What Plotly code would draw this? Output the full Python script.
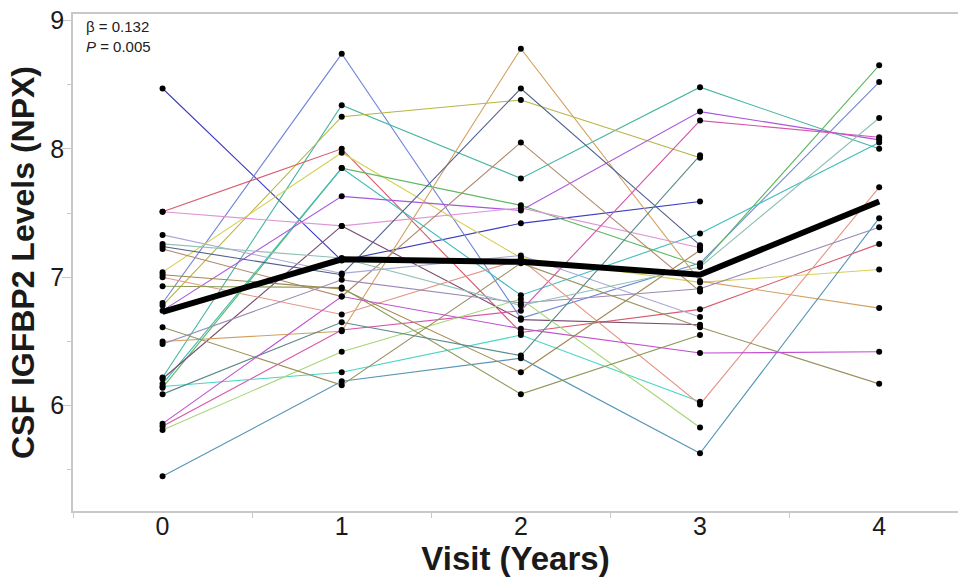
import plotly.graph_objects as go

visits = [0, 1, 2, 3, 4]
x_tick_labels = ["0", "1", "2", "3", "4"]
y_tick_values = [6, 7, 8, 9]

# Individual subject trajectories (None = missing visit)
s01 = [8.47, 7.13, 7.42, 7.59, None]
s02 = [6.80, 8.74, 6.68, 7.11, 8.52]
s03 = [6.22, 8.34, 7.77, 8.48, 8.00]
s04 = [6.78, 8.25, 8.38, 7.93, None]
s05 = [7.51, 8.00, 6.57, 6.75, 7.26]
s06 = [7.04, 7.97, 7.15, 6.96, 7.06]
s07 = [6.14, 7.85, 7.56, 7.09, 8.65]
s08 = [6.17, 7.85, 6.86, 7.34, 8.05]
s09 = [6.74, 7.63, 7.52, 8.29, 8.07]
s10 = [7.51, 7.40, 7.54, 7.23, None]
s11 = [6.21, 7.40, 6.67, 6.63, None]
s12 = [6.50, 6.58, 8.78, 6.97, 6.76]
s13 = [7.24, 7.02, 8.47, 7.25, None]
s14 = [7.22, 6.85, 8.05, 6.89, None]
s15 = [5.84, 6.59, 6.74, 8.22, 8.09]
s16 = [6.15, 6.26, 6.55, 6.03, None]
s17 = [5.81, 6.42, 6.83, 5.83, None]
s18 = [5.45, 6.19, 6.37, 5.63, 7.46]
s19 = [7.00, 6.71, 7.14, 6.01, 7.70]
s20 = [7.33, 7.03, 7.17, 6.69, None]
s21 = [6.61, 6.16, 7.11, 6.61, 6.17]
s22 = [7.02, 6.91, 6.26, 7.21, None]
s23 = [6.93, 6.92, 6.09, 6.55, None]
s24 = [6.09, 6.65, 6.39, 7.95, None]
s25 = [5.86, 6.85, 6.60, 6.41, 6.42]
s26 = [6.48, 6.98, 6.80, 6.91, 7.39]
s27 = [7.26, 7.15, 6.78, 7.08, 8.24]

subjects = [s01, s02, s03, s04, s05, s06, s07, s08, s09, s10, s11, s12, s13, s14,
            s15, s16, s17, s18, s19, s20, s21, s22, s23, s24, s25, s26, s27]

colors = ["#3c3cc0", "#6f86d8", "#45b5a0", "#b5b545", "#d85a6a", "#d8d055", "#5cb860",
          "#3fbcbc", "#a855dd", "#dc95d5", "#7a4d70", "#d4a060", "#50608f", "#b08a6a",
          "#d655a8", "#45d5c5", "#a5d575", "#5595b5", "#e39585", "#a8a8d5", "#9a9060",
          "#a08850", "#8a9a55", "#5a8a8a", "#c050d0", "#9a88b5", "#8fc0b5"]

# Model-estimated mean trajectory
mean_values = [6.73, 7.14, 7.12, 7.02, 7.59]

fig = go.Figure()

for vals, col in zip(subjects, colors):
    fig.add_trace(go.Scatter(
        x=visits, y=vals, mode="lines", connectgaps=False,
        line=dict(color=col, width=1.1), hoverinfo="skip", showlegend=False))

for vals in subjects:
    fig.add_trace(go.Scatter(
        x=visits, y=vals, mode="markers",
        marker=dict(color="black", size=6), showlegend=False))

fig.add_trace(go.Scatter(
    x=visits, y=mean_values, mode="lines",
    line=dict(color="black", width=6), showlegend=False))

fig.add_annotation(
    xref="paper", yref="paper", x=0.012, y=0.995, xanchor="left", yanchor="top",
    text="β = 0.132<br><i>P</i> = 0.005", showarrow=False, align="left",
    font=dict(family="Liberation Sans, Arial, sans-serif", size=15, color="#222"))

axis_col = "#c8c8c8"
fig.update_layout(
    width=958, height=578,
    margin=dict(l=73, r=0, t=14, b=67),
    paper_bgcolor="white", plot_bgcolor="white",
    font=dict(family="Liberation Sans, Arial, sans-serif", color="#1a1a1a"),
    xaxis=dict(
        range=[-0.5, 4.44], tickvals=visits, ticktext=x_tick_labels,
        ticks="", ticklen=0, showgrid=False, zeroline=False,
        showline=True, linecolor=axis_col, linewidth=1.5, mirror=True,
        tickfont=dict(size=25),
        minor=dict(tickvals=[-0.5, 0.5, 1.5, 2.5, 3.5], ticks="outside",
                   ticklen=5, tickcolor=axis_col, showgrid=False),
        title=dict(text="<b>Visit (Years)</b>", font=dict(size=33), standoff=0),
    ),
    yaxis=dict(
        range=[5.18, 9.05], tickvals=y_tick_values,
        ticks="outside", ticklen=9, tickcolor=axis_col, tickwidth=1.2,
        showgrid=False, zeroline=False,
        showline=True, linecolor=axis_col, linewidth=1.5,
        tickfont=dict(size=25),
        minor=dict(tickvals=[5.5, 6.5, 7.5, 8.5], ticks="outside",
                   ticklen=4, tickcolor=axis_col, showgrid=False),
        title=dict(text="<b>CSF IGFBP2 Levels (NPX)</b>", font=dict(size=32), standoff=6),
    ),
)

try:
    fig.update_xaxes(ticklabelstandoff=-8)
    fig.update_yaxes(ticklabelstandoff=-7)
except Exception:
    pass

fig.write_html("out.html")
